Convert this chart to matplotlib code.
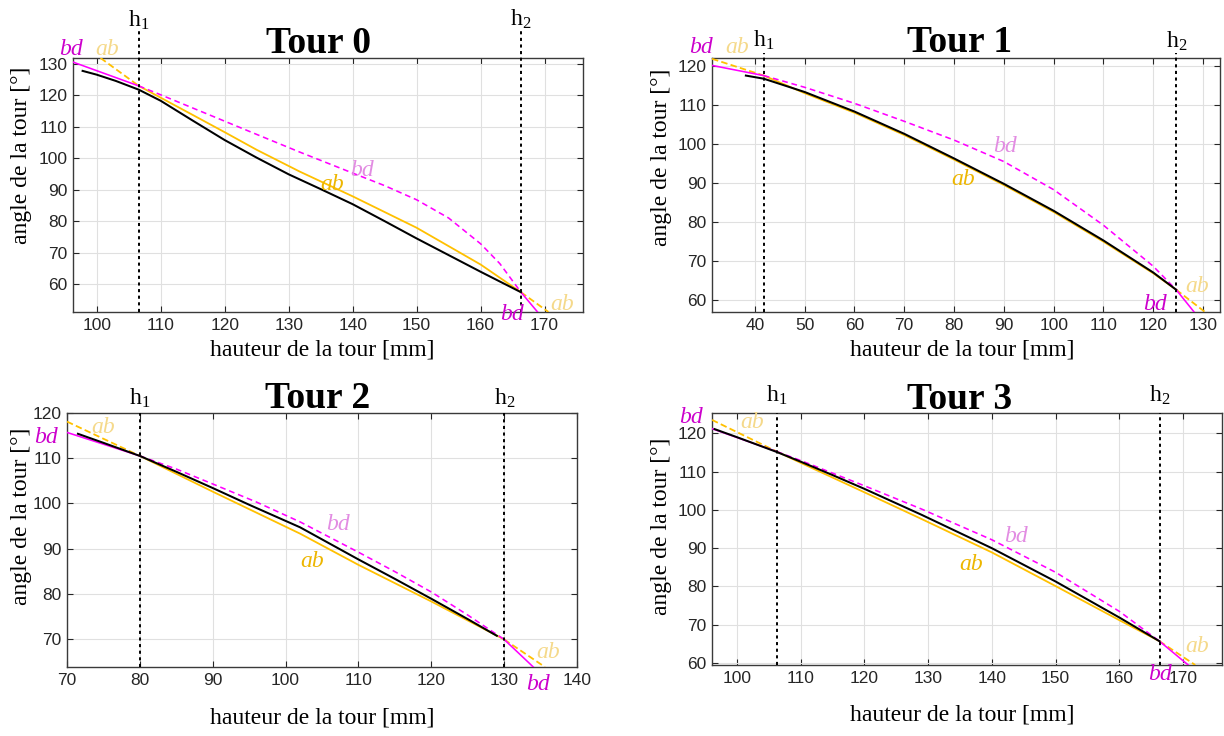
import matplotlib
matplotlib.use("Agg")
import matplotlib.pyplot as plt
import matplotlib.transforms as mtrans

# ---------------- data ----------------
titles = ["Tour 0", "Tour 1", "Tour 2", "Tour 3"]
h1_values = [106.6, 41.8, 80.0, 106.3]
h2_values = [166.3, 124.6, 130.0, 166.3]
x_limits = [(96.3, 176.0), (31.4, 133.4), (70.0, 140.0), (96.1, 176.1)]
y_limits = [(51.1, 131.9), (57.0, 122.0), (63.8, 120.0), (59.5, 125.3)]
x_ticks = [list(range(100, 171, 10)), list(range(40, 131, 10)),
           list(range(70, 141, 10)), list(range(100, 171, 10))]
y_ticks = [list(range(60, 131, 10)), list(range(60, 121, 10)),
           list(range(70, 121, 10)), list(range(60, 121, 10))]

# Tour 0
t0_black_h = [97.8, 100, 103, 106.6, 110, 115, 120, 125, 130, 135, 140, 145, 150, 155, 160, 163, 166.3]
t0_black_a = [127.8, 126.6, 124.6, 121.8, 118.3, 112.0, 105.8, 100.2, 94.9, 90.2, 85.4, 80.0, 74.5, 69.2, 63.9, 60.8, 57.4]
t0_ab_h = [106.6, 115, 120, 125, 131.7, 140, 150, 160, 166.3]
t0_ab_a = [123.0, 113.8, 108.3, 102.7, 95.8, 87.9, 77.9, 66.2, 57.4]
t0_bd_h = [106.6, 110, 115, 120, 125, 131.7, 140, 145, 150, 155, 160, 163, 166.3]
t0_bd_a = [123.0, 120.2, 116.0, 111.8, 107.6, 102.0, 95.3, 91.3, 86.8, 81.0, 72.8, 66.5, 57.4]
t0_ab_left_h, t0_ab_left_a = [100.6, 106.6], [131.9, 123.0]
t0_ab_right_h, t0_ab_right_a = [166.3, 170.6], [57.4, 51.1]
t0_bd_left_h, t0_bd_left_a = [96.3, 106.6], [130.6, 123.0]
t0_bd_right_h, t0_bd_right_a = [166.3, 168.9], [57.4, 51.1]

# Tour 1
t1_black_h = [38.2, 41.8, 50, 60, 70, 80, 90, 100, 110, 120, 124.6]
t1_black_a = [117.5, 116.7, 113.3, 108.3, 102.6, 96.3, 89.8, 82.9, 75.3, 67.1, 62.7]
t1_ab_h = [41.8, 50, 60, 70, 80, 90, 100, 110, 120, 124.6]
t1_ab_a = [117.5, 113.0, 108.0, 102.3, 96.0, 89.5, 82.6, 75.0, 66.9, 62.7]
t1_bd_h = [41.8, 50, 60, 70, 80, 90, 100, 110, 120, 124.6]
t1_bd_a = [117.5, 114.5, 110.4, 105.8, 101.0, 95.5, 88.3, 79.2, 68.7, 62.7]
t1_ab_left_h, t1_ab_left_a = [31.4, 41.8], [121.8, 117.5]
t1_ab_right_h, t1_ab_right_a = [124.6, 130.4], [62.7, 57.0]
t1_bd_left_h, t1_bd_left_a = [31.4, 41.8], [120.1, 117.5]
t1_bd_right_h, t1_bd_right_a = [124.6, 128.2], [62.7, 57.0]

# Tour 2
t2_black_h = [71.5, 75, 80, 85, 90, 95, 102, 110, 115, 120, 125, 129]
t2_black_a = [115.4, 113.4, 110.5, 107.0, 103.4, 99.7, 94.7, 87.6, 83.3, 78.9, 74.4, 70.7]
t2_ab_h = [80, 90, 102, 110, 120, 130]
t2_ab_a = [110.5, 102.6, 93.3, 86.4, 78.3, 69.9]
t2_bd_h = [80, 85, 90, 96, 102, 110, 115, 120, 125, 130]
t2_bd_a = [110.5, 107.6, 104.3, 100.3, 95.9, 89.2, 84.9, 80.4, 75.3, 69.9]
t2_ab_left_h, t2_ab_left_a = [70, 80], [118.1, 110.5]
t2_ab_right_h, t2_ab_right_a = [130, 135.6], [69.9, 63.8]
t2_bd_left_h, t2_bd_left_a = [70, 80], [115.7, 110.5]
t2_bd_right_h, t2_bd_right_a = [130, 134.0], [69.9, 63.8]

# Tour 3
t3_black_h = [96.5, 100, 106.3, 110, 115, 120, 129, 140, 150, 160, 166.3]
t3_black_a = [121.1, 119.0, 115.1, 112.6, 109.1, 105.5, 98.7, 90.0, 81.3, 71.9, 65.7]
t3_ab_h = [106.3, 110, 120, 129, 140, 150, 160, 166.3]
t3_ab_a = [115.2, 112.3, 104.6, 97.6, 88.9, 80.1, 71.2, 65.7]
t3_bd_h = [106.3, 110, 120, 129, 140, 150, 160, 166.3]
t3_bd_a = [115.2, 112.9, 106.3, 100.2, 92.2, 83.7, 73.5, 65.7]
t3_ab_left_h, t3_ab_left_a = [96.1, 106.3], [123.5, 115.2]
t3_ab_right_h, t3_ab_right_a = [166.3, 171.9], [65.7, 59.5]
t3_bd_left_h, t3_bd_left_a = [96.1, 106.3], [121.2, 115.2]
t3_bd_right_h, t3_bd_right_a = [166.3, 170.8], [65.7, 59.5]

x_label = "hauteur de la tour [mm]"
y_label = "angle de la tour [°]"

series = [
    dict(black=(t0_black_h, t0_black_a), ab=(t0_ab_h, t0_ab_a), bd=(t0_bd_h, t0_bd_a),
         abl=(t0_ab_left_h, t0_ab_left_a), abr=(t0_ab_right_h, t0_ab_right_a),
         bdl=(t0_bd_left_h, t0_bd_left_a), bdr=(t0_bd_right_h, t0_bd_right_a)),
    dict(black=(t1_black_h, t1_black_a), ab=(t1_ab_h, t1_ab_a), bd=(t1_bd_h, t1_bd_a),
         abl=(t1_ab_left_h, t1_ab_left_a), abr=(t1_ab_right_h, t1_ab_right_a),
         bdl=(t1_bd_left_h, t1_bd_left_a), bdr=(t1_bd_right_h, t1_bd_right_a)),
    dict(black=(t2_black_h, t2_black_a), ab=(t2_ab_h, t2_ab_a), bd=(t2_bd_h, t2_bd_a),
         abl=(t2_ab_left_h, t2_ab_left_a), abr=(t2_ab_right_h, t2_ab_right_a),
         bdl=(t2_bd_left_h, t2_bd_left_a), bdr=(t2_bd_right_h, t2_bd_right_a)),
    dict(black=(t3_black_h, t3_black_a), ab=(t3_ab_h, t3_ab_a), bd=(t3_bd_h, t3_bd_a),
         abl=(t3_ab_left_h, t3_ab_left_a), abr=(t3_ab_right_h, t3_ab_right_a),
         bdl=(t3_bd_left_h, t3_bd_left_a), bdr=(t3_bd_right_h, t3_bd_right_a)),
]

# ---------------- style / layout ----------------
W, H = 1224, 736
SERIF = "Liberation Serif"
YEL = "#FFC000"
MAG = "#FF00FF"
TXT_MAG = "#CC00CC"
TXT_PINK = "#E28CE2"
TXT_GOLD = "#EDB600"
TXT_LIGHT = "#F5D98A"

plt.rcParams["font.family"] = ["Liberation Sans", "DejaVu Sans"]
plt.rcParams["mathtext.fontset"] = "custom"
plt.rcParams["mathtext.rm"] = SERIF
plt.rcParams["mathtext.it"] = SERIF + ":italic"

axes_px = [(73, 58, 583, 312), (712, 58, 1220, 312), (67, 413, 577, 667), (712, 413, 1222, 665)]
vline_top = [1.105, 1.02, 1.0, 1.0]
title_pos = [(318, 53), (960, 52), (318, 408), (960, 409)]
h1_pos = [(139, 27), (764, 47), (140, 405), (777, 402)]
h2_pos = [(521, 26), (1177, 48), (505, 405), (1160, 402)]
xlabel_pos = [(322, 350), (962, 350), (322, 718), (962, 715)]
ylabel_pos = [(21, 155), (662, 157), (21, 516), (662, 526)]
# (text, color, x, y baseline)
annots = [
    [("bd", TXT_MAG, 71, 55), ("ab", TXT_LIGHT, 107, 55), ("bd", TXT_PINK, 362, 176),
     ("ab", TXT_GOLD, 332, 190), ("ab", TXT_LIGHT, 562, 310), ("bd", TXT_MAG, 512, 320)],
    [("bd", TXT_MAG, 701, 53), ("ab", TXT_LIGHT, 737, 53), ("bd", TXT_PINK, 1005, 152),
     ("ab", TXT_GOLD, 963, 185), ("ab", TXT_LIGHT, 1197, 292), ("bd", TXT_MAG, 1155, 310)],
    [("bd", TXT_MAG, 46, 443), ("ab", TXT_LIGHT, 103, 433), ("bd", TXT_PINK, 338, 530),
     ("ab", TXT_GOLD, 312, 567), ("ab", TXT_LIGHT, 548, 658), ("bd", TXT_MAG, 538, 690)],
    [("bd", TXT_MAG, 691, 423), ("ab", TXT_LIGHT, 752, 428), ("bd", TXT_PINK, 1016, 542),
     ("ab", TXT_GOLD, 971, 570), ("ab", TXT_LIGHT, 1197, 652), ("bd", TXT_MAG, 1160, 680)],
]

fig = plt.figure(figsize=(W / 100, H / 100), dpi=100)


def fx(x):
    return x / W


def fy(y):
    return 1 - y / H


for i in range(4):
    l, t, r, b = axes_px[i]
    ax = fig.add_axes([fx(l), fy(b), (r - l) / W, (b - t) / H])
    ax.set_xlim(*x_limits[i])
    ax.set_ylim(*y_limits[i])
    ax.set_xticks(x_ticks[i])
    ax.set_yticks(y_ticks[i])
    ax.grid(True, color="#e0e0e0", lw=0.8)
    ax.set_axisbelow(True)
    ax.tick_params(direction="in", length=4, width=0.8, top=True, right=True,
                   labelsize=12.5, labelcolor="#262626", color="#262626", pad=4)
    for s in ax.spines.values():
        s.set_color("#3a3a3a")
        s.set_linewidth(1.0)

    d = series[i]
    dash_y = (0, (3.6, 1.8))
    dash_m = (0, (3.6, 2.4))
    ax.plot(*d["ab"], color=YEL, lw=1.3, zorder=3)
    ax.plot(*d["abl"], color=YEL, lw=1.3, ls=dash_y, zorder=3)
    ax.plot(*d["abr"], color=YEL, lw=1.3, ls=dash_y, zorder=3)
    ax.plot(*d["bd"], color=MAG, lw=1.15, ls=dash_m, zorder=4)
    ax.plot(*d["bdl"], color=MAG, lw=1.15, zorder=4)
    ax.plot(*d["bdr"], color=MAG, lw=1.15, zorder=4)
    ax.plot(*d["black"], color="black", lw=1.45, zorder=5)

    trans = mtrans.blended_transform_factory(ax.transData, ax.transAxes)
    for hv in (h1_values[i], h2_values[i]):
        ax.plot([hv, hv], [0, vline_top[i]], transform=trans, color="black",
                lw=1.4, ls=(0, (1.6, 1.8)), clip_on=False, zorder=6)

    fig.text(fx(title_pos[i][0]), fy(title_pos[i][1]), titles[i], ha="center",
             va="baseline", fontsize=27, fontweight="bold", fontfamily=SERIF)
    fig.text(fx(h1_pos[i][0]), fy(h1_pos[i][1]), r"$\mathrm{h}_{1}$", ha="center",
             va="baseline", fontsize=17)
    fig.text(fx(h2_pos[i][0]), fy(h2_pos[i][1]), r"$\mathrm{h}_{2}$", ha="center",
             va="baseline", fontsize=17)
    fig.text(fx(xlabel_pos[i][0]), fy(xlabel_pos[i][1]), x_label, ha="center",
             va="center", fontsize=17, fontfamily=SERIF)
    fig.text(fx(ylabel_pos[i][0]), fy(ylabel_pos[i][1]), y_label, ha="center",
             va="center", rotation=90, fontsize=17, fontfamily=SERIF)
    for txt, col, x, y in annots[i]:
        fig.text(fx(x), fy(y), txt, ha="center", va="baseline", color=col,
                 fontsize=17, fontstyle="italic", fontfamily=SERIF)

fig.savefig("out.png", dpi=100)
